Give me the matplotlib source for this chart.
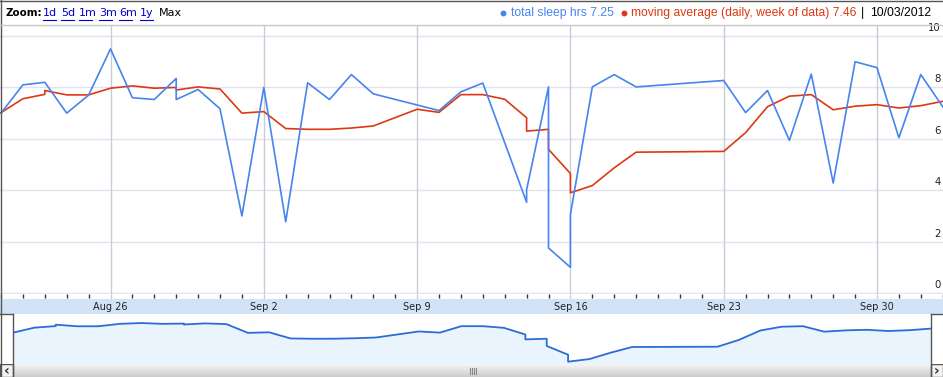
import matplotlib
matplotlib.use('Agg')
import matplotlib.pyplot as plt
import matplotlib.dates as mdates
from matplotlib.lines import Line2D
from matplotlib.patches import Rectangle
import numpy as np
import pandas as pd

# ---------------- data ----------------
sleep_dates = ['2012-08-21', '2012-08-22', '2012-08-23', '2012-08-24', '2012-08-25',
               '2012-08-26', '2012-08-27', '2012-08-28', '2012-08-29 00:00', '2012-08-29 00:01',
               '2012-08-30', '2012-08-31', '2012-09-01', '2012-09-02', '2012-09-03',
               '2012-09-04', '2012-09-05', '2012-09-06', '2012-09-07', '2012-09-10',
               '2012-09-11', '2012-09-12', '2012-09-14 00:00', '2012-09-14 00:01',
               '2012-09-15 00:00', '2012-09-15 00:01', '2012-09-16 00:00', '2012-09-16 00:01',
               '2012-09-17', '2012-09-18', '2012-09-19', '2012-09-23', '2012-09-24',
               '2012-09-25', '2012-09-26', '2012-09-27', '2012-09-28', '2012-09-29',
               '2012-09-30', '2012-10-01', '2012-10-02', '2012-10-03']
sleep_hours = [7.0, 8.1, 8.2, 7.0, 7.7,
               9.5, 7.6, 7.53, 8.35, 7.53,
               7.92, 7.17, 3.0, 8.0, 2.77,
               8.18, 7.53, 8.5, 7.75, 7.1,
               7.83, 8.17, 3.53, 4.02,
               8.02, 1.75, 1.0, 3.05,
               8.02, 8.5, 8.02, 8.27, 7.02,
               7.88, 5.94, 8.52, 4.28, 9.0,
               8.77, 6.04, 8.5, 7.25]

avg_dates = ['2012-08-21', '2012-08-22', '2012-08-23 00:00', '2012-08-23 00:01', '2012-08-24',
             '2012-08-25', '2012-08-26', '2012-08-27', '2012-08-28', '2012-08-29 00:00',
             '2012-08-29 00:01', '2012-08-30', '2012-08-31', '2012-09-01', '2012-09-02',
             '2012-09-03', '2012-09-04', '2012-09-05', '2012-09-06', '2012-09-07',
             '2012-09-09', '2012-09-10', '2012-09-11', '2012-09-12', '2012-09-13',
             '2012-09-14 00:00', '2012-09-14 00:01', '2012-09-15 00:00', '2012-09-15 00:01',
             '2012-09-16 00:00', '2012-09-16 00:01', '2012-09-17', '2012-09-18', '2012-09-19',
             '2012-09-23', '2012-09-24', '2012-09-25', '2012-09-26', '2012-09-27',
             '2012-09-28', '2012-09-29', '2012-09-30', '2012-10-01', '2012-10-02', '2012-10-03']
avg_hours = [7.02, 7.56, 7.73, 7.88, 7.71,
             7.71, 7.97, 8.06, 7.97, 8.0,
             7.9, 8.02, 7.94, 7.0, 7.06,
             6.4, 6.37, 6.37, 6.42, 6.5,
             7.15, 7.03, 7.72, 7.72, 7.54,
             6.82, 6.3, 6.37, 5.59,
             4.65, 3.9, 4.18, 4.87, 5.48,
             5.51, 6.24, 7.25, 7.66, 7.72,
             7.13, 7.27, 7.33, 7.2, 7.29, 7.46]

week_ticks = ['2012-08-26', '2012-09-02', '2012-09-09', '2012-09-16', '2012-09-23', '2012-09-30']
week_labels = ['Aug 26', 'Sep 2', 'Sep 9', 'Sep 16', 'Sep 23', 'Sep 30']
y_ticks = [0, 2, 4, 6, 8, 10]
zoom_links = ['1d', '5d', '1m', '3m', '6m', '1y']
legend_sleep = 'total sleep hrs 7.25'
legend_avg = 'moving average (daily, week of data) 7.46'
legend_date = '10/03/2012'

BLUE = '#4684ee'
RED = '#dc3912'

# ---------------- figure ----------------
W, H = 943, 377
fig = plt.figure(figsize=(W / 100, H / 100), dpi=100)
fig.patch.set_facecolor('white')


def rect(x0, y0, x1, y1):
    return [x0 / W, 1 - y1 / H, (x1 - x0) / W, (y1 - y0) / H]


def fx(x):
    return x / W


def fy(y):
    return 1 - y / H


def to_num(lst):
    return mdates.date2num(pd.to_datetime(lst, format='mixed'))


sd = to_num(sleep_dates)
ad = to_num(avg_dates)
wk = to_num(week_ticks)
first = mdates.date2num(pd.Timestamp('2012-08-21'))
last = mdates.date2num(pd.Timestamp('2012-10-03'))
ppd = 21.9
x_left = first - 1.0 / ppd
x_right = x_left + W / ppd

# main plot
ax = fig.add_axes(rect(0, 25, W, 294))
ax.set_xlim(x_left, x_right)
ax.set_ylim(-0.04, 10.43)
for s in ax.spines.values():
    s.set_visible(False)
for v in y_ticks:
    ax.axhline(v, color='#e2e2f2', lw=1.0, zorder=0)
for w in wk:
    ax.axvline(w, color='#c9ccd4', lw=1.0, zorder=0)
ax.plot(sd, sleep_hours, color=BLUE, lw=1.2, zorder=3)
ax.plot(ad, avg_hours, color=RED, lw=1.2, zorder=2)
ax.set_yticks([])
ax.set_xticks(wk)
ax.set_xticks(np.arange(first, last + 1, 1.0), minor=True)
ax.tick_params(axis='x', which='major', length=5, width=1, color='#c9ccd4', labelbottom=False)
ax.tick_params(axis='x', which='minor', length=3, width=1, color='#333333')
for v in y_ticks:
    ax.annotate(str(v), xy=(1, v), xycoords=('axes fraction', 'data'),
                xytext=(-2, 8), textcoords='offset pixels', ha='right', va='center',
                fontsize=7.3, color='#222222', family='DejaVu Sans')

# date band
axb = fig.add_axes(rect(0, 299, W, 314))
axb.set_xlim(x_left, x_right)
axb.set_ylim(0, 1)
axb.set_facecolor('#d3e3f7')
for s in axb.spines.values():
    s.set_visible(False)
axb.set_xticks([])
axb.set_yticks([])
for w, lab in zip(wk, week_labels):
    axb.text(w, 0.45, lab, ha='center', va='center', fontsize=7, color='#222222',
             family='DejaVu Sans')

# navigator
axn = fig.add_axes(rect(13, 314, 931, 364))
axn.set_xlim(first, last)
axn.set_ylim(3.65, 9.03)
axn.fill_between(ad, avg_hours, 3.65, color='#eaf4fd', lw=0)
axn.plot(ad, avg_hours, color='#2b6dd3', lw=1.3)
for s in axn.spines.values():
    s.set_visible(False)
axn.set_xticks([])
axn.set_yticks([])

# scrollbar
axs = fig.add_axes(rect(0, 364, W, 377))
grad = np.linspace(0, 1, 20).reshape(-1, 1)
axs.imshow(grad, cmap=matplotlib.colors.LinearSegmentedColormap.from_list('g', ['#f5f5f5', '#cdcdcd']),
           aspect='auto', extent=(0, W, 0, 1))
axs.set_xlim(0, W)
axs.set_ylim(0, 1)
axs.axis('off')
axs.add_patch(Rectangle((0, 0), 13, 1, facecolor='#f2f2f2', edgecolor='#555555', lw=1))
axs.add_patch(Rectangle((931, 0), 12, 1, facecolor='#f2f2f2', edgecolor='#555555', lw=1))
axs.text(6.5, 0.45, '‹', ha='center', va='center', fontsize=10, color='#333333', fontweight='bold')
axs.text(937, 0.45, '›', ha='center', va='center', fontsize=10, color='#333333', fontweight='bold')
for gx in [470, 472, 474, 476]:
    axs.plot([gx, gx], [0.25, 0.7], color='#888888', lw=0.8)

# handle frames
for xs, ys in [([0, 13], [314, 314]), ([13, 13], [314, 377]),
               ([931, 943], [314, 314]), ([931, 931], [314, 377]),
               ([0, W], [0.5, 0.5]), ([0.5, 0.5], [0, 377])]:
    fig.add_artist(Line2D([fx(x) for x in xs], [fy(y) for y in ys], color='#555555', lw=1.0,
                          transform=fig.transFigure))
# header separator
fig.add_artist(Line2D([0, 1], [fy(25), fy(25)], color='#c8c8c8', lw=1.0, transform=fig.transFigure))

# header
fig.text(fx(6), fy(13), 'Zoom:', ha='left', va='center', fontsize=7.4, fontweight='bold',
         color='#000000', family='DejaVu Sans')
link_x = [43, 61, 79, 99, 119, 140]
for lx, lab in zip(link_x, zoom_links):
    t = fig.text(fx(lx), fy(13), lab, ha='left', va='center', fontsize=8, color='#0000cc',
                 family='DejaVu Sans')
    fig.add_artist(Line2D([fx(lx), fx(lx + 6.5 * len(lab))], [fy(20), fy(20)], color='#0000cc',
                          lw=0.8, transform=fig.transFigure))
fig.text(fx(159), fy(13), 'Max', ha='left', va='center', fontsize=8, color='#000000',
         family='DejaVu Sans')

fig.add_artist(Line2D([fx(503)], [fy(13)], marker='o', ms=3.2, color=BLUE, transform=fig.transFigure))
fig.text(fx(511), fy(13), legend_sleep, ha='left', va='center', fontsize=8.7, color=BLUE,
         family='Liberation Sans')
fig.add_artist(Line2D([fx(624)], [fy(13)], marker='o', ms=3.2, color=RED, transform=fig.transFigure))
fig.text(fx(631), fy(13), legend_avg, ha='left', va='center', fontsize=8.7, color=RED,
         family='Liberation Sans')
fig.text(fx(863), fy(13), '|', ha='center', va='center', fontsize=8.7, color='#000000',
         family='Liberation Sans')
fig.text(fx(870), fy(13), legend_date, ha='left', va='center', fontsize=8.7, color='#000000',
         family='Liberation Sans')

fig.savefig('out.png', dpi=100, facecolor='white')
